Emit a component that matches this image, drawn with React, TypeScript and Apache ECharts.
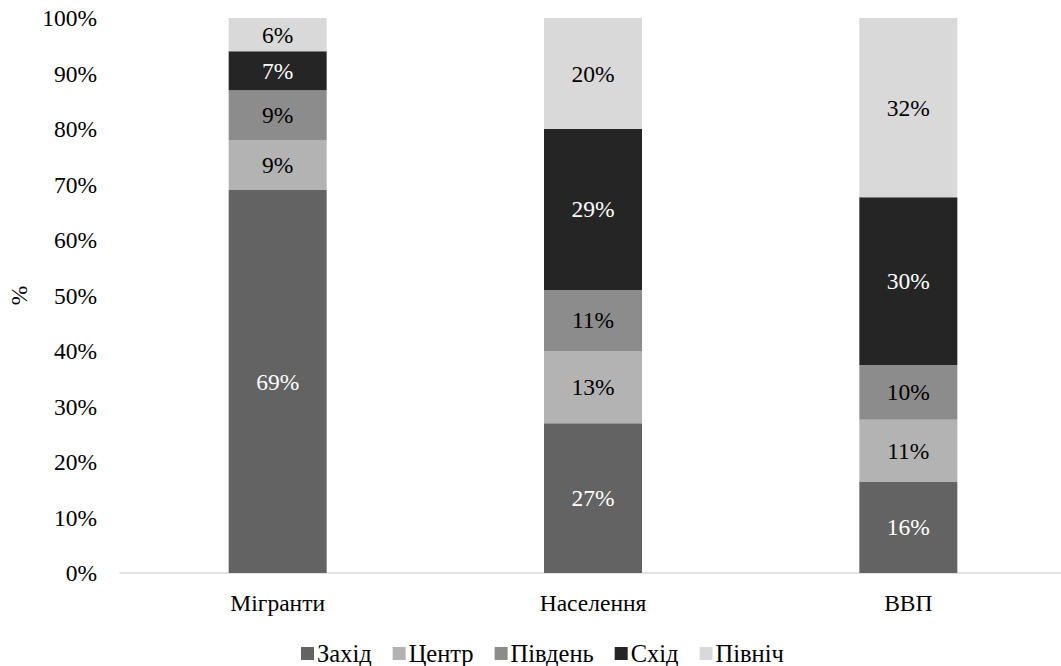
import React, { useEffect, useRef } from "react";
import * as echarts from "echarts";

const categories = ["Мігранти", "Населення", "ВВП"];
const seriesNames = ["Захід", "Центр", "Південь", "Схід", "Північ"];
const zakhid = [69, 27, 16.4];
const tsentr = [9, 13, 11.2];
const pivden = [9, 11, 9.9];
const skhid = [7, 29, 30.2];
const pivnich = [6, 20, 32.3];
const colors = ["#636363", "#b3b3b3", "#8c8c8c", "#252525", "#d9d9d9"];
const labelColors = ["#ffffff", "#000000", "#000000", "#ffffff", "#000000"];
const yTicks = [0, 10, 20, 30, 40, 50, 60, 70, 80, 90, 100];

const FONT = "Liberation Serif";
const FS = 23.5;

export default function App() {
  const ref = useRef<HTMLDivElement>(null);
  useEffect(() => {
    if (!ref.current) return;
    const chart = echarts.init(ref.current, null, { renderer: "svg" });
    const data = [zakhid, tsentr, pivden, skhid, pivnich];
    chart.setOption({
      animation: false,
      textStyle: { fontFamily: FONT },
      grid: {
        left: 120,
        top: 18,
        width: 946,
        height: 555,
        containLabel: false,
        outerBoundsMode: "none",
      },
      legend: {
        top: 636,
        left: 296,
        itemWidth: 13,
        itemHeight: 13,
        itemGap: 21,
        icon: "rect",
        textStyle: { fontFamily: FONT, fontSize: 24.5, color: "#000", padding: [0, 0, 0, -2] },
        data: seriesNames,
      },
      xAxis: {
        type: "category",
        data: categories,
        axisLine: { lineStyle: { color: "#d9d9d9", width: 1.5 } },
        axisTick: { show: false },
        axisLabel: { fontFamily: FONT, fontSize: FS, color: "#000", margin: 18 },
      },
      yAxis: {
        type: "value",
        min: 0,
        max: yTicks[yTicks.length - 1],
        interval: 10,
        name: "%",
        nameLocation: "middle",
        nameGap: 86,
        nameRotate: 90,
        nameTextStyle: { fontFamily: FONT, fontSize: FS, color: "#000" },
        axisLine: { show: false },
        axisTick: { show: false },
        splitLine: { show: false },
        axisLabel: {
          fontFamily: FONT,
          fontSize: FS,
          color: "#000",
          margin: 23,
          formatter: (v: number) => `${v}%`,
        },
      },
      series: seriesNames.map((name, i) => ({
        name,
        type: "bar",
        stack: "total",
        barWidth: 98,
        data: data[i],
        itemStyle: { color: colors[i] },
        label: {
          show: true,
          position: "inside",
          fontFamily: FONT,
          fontSize: FS,
          color: labelColors[i],
          formatter: (p: any) => `${Math.round(p.value)}%`,
        },
      })),
    });
    return () => chart.dispose();
  }, []);
  return (
    <div
      ref={ref}
      style={{ position: "fixed", left: 0, top: 0, width: 1061, height: 666, background: "#fff" }}
    />
  );
}
